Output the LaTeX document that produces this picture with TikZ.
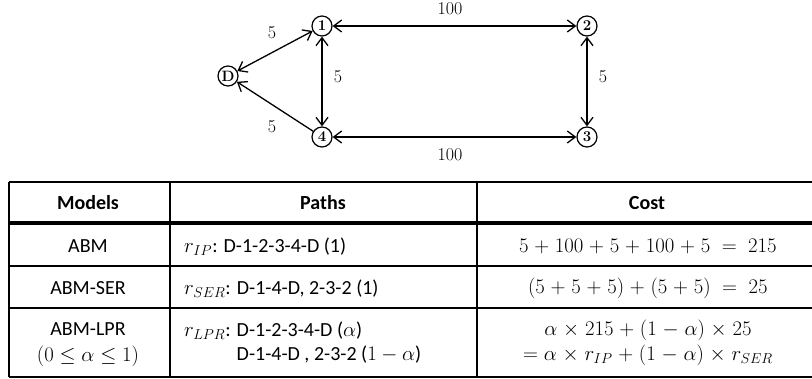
\documentclass[tikz,border=0pt]{standalone}
\usepackage{fontspec}
\newfontfamily\carl{Carlito}
\usetikzlibrary{arrows.meta}
\newcommand\widemath{\medmuskip=5mu\relax}
\begin{document}
\begin{tikzpicture}[x=1pt,y=-1pt,
  vtx/.style={circle,draw,line width=1.2pt,minimum size=20pt,inner sep=0pt,font=\bfseries\fontsize{15}{15}\selectfont},
  edge/.style={line width=1.3pt},
  both/.style={edge,{Straight Barb[length=8pt,width=12pt]}-{Straight Barb[length=8pt,width=12pt]}},
  one/.style={edge,-{Straight Barb[length=8pt,width=12pt]}},
  elab/.style={font=\fontsize{18}{18}\selectfont,inner sep=0pt},
  tline/.style={line width=1.3pt},
  cell/.style={font=\carl\fontsize{20}{23}\selectfont,inner sep=0pt},
  mcell/.style={font=\fontsize{22}{24}\selectfont,inner sep=0pt},
  hcell/.style={font=\carl\bfseries\fontsize{20}{23}\selectfont,inner sep=0pt},
  ]
\useasboundingbox (0,0) rectangle (812,379);
% graph
\node[vtx] (D) at (228,76) {D};
\node[vtx] (n1) at (322,26) {1};
\node[vtx] (n2) at (587,26) {2};
\node[vtx] (n4) at (322,137) {4};
\node[vtx] (n3) at (587,137) {3};
\draw[both] (D) -- (n1);
\draw[one] (n4) -- (D);
\draw[both] (n1) -- (n4);
\draw[both] (n1) -- (n2);
\draw[both] (n4) -- (n3);
\draw[both] (n2) -- (n3);
\node[elab] (l1) at (272,33) {5};
\node[elab] (l2) at (272,127) {5};
\node[elab] (l3) at (338,77) {5};
\node[elab] (l4) at (603,77) {5};
\node[elab] (l5) at (450,9) {100};
\node[elab] (l6) at (450,155) {100};
% table lines
\draw[tline] (9,182) -- (812,182);
\draw[line width=3.2pt] (9,223) -- (812,223);
\draw[tline] (9,266) -- (812,266);
\draw[tline] (9,308) -- (812,308);
\draw[tline] (9,377) -- (812,377);
\draw[tline] (9,182) -- (9,377);
\draw[tline] (170,182) -- (170,377);
\draw[tline] (477,182) -- (477,377);
% header
\node[hcell] (h1) at (88,203) {Models};
\node[hcell] (h2) at (323,203) {Paths};
\node[hcell] (h3) at (647,203) {Cost};
% row 1
\node[cell] (a1) at (88,246) {ABM};
\node[cell,anchor=west] (b1) at (184,247) {$r_{IP}$: D-1-2-3-4-D (1)};
\node[mcell] (c1) at (648,246) {\widemath$5+100+5+100+5\;=\;215$};
% row 2
\node[cell] (a2) at (88,288) {ABM-SER};
\node[cell,anchor=west] (b2) at (184,289) {$r_{SER}$: D-1-4-D, 2-3-2 (1)};
\node[mcell] (c2) at (648,288) {\widemath$(5+5+5)+(5+5)\;=\;25$};
% row 3
\node[cell] (a3) at (88,329) {ABM-LPR};
\node[cell] (a3b) at (88,356) {$(0\le\alpha\le1)$};
\node[cell,anchor=west] (b3) at (184,331) {$r_{LPR}$: D-1-2-3-4-D ($\alpha$)};
\node[cell,anchor=west] (b3b) at (184,355) {\phantom{$r_{LPR}$: }D-1-4-D , 2-3-2 ($1-\alpha$)};
\node[mcell] (c3) at (648,330) {\widemath$\alpha\times215+(1-\alpha)\times25$};
\node[mcell] (c3b) at (648,355) {\widemath$=\alpha\times r_{IP}+(1-\alpha)\times r_{SER}$};
\end{tikzpicture}
\end{document}
